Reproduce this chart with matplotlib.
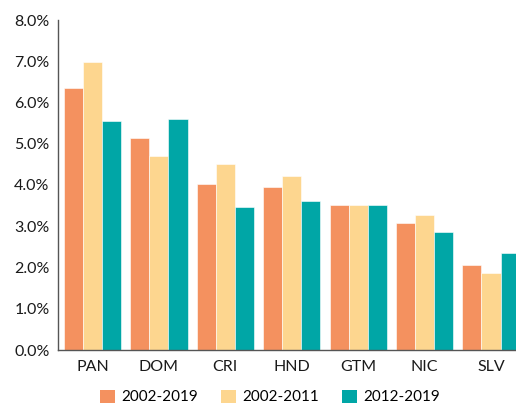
import matplotlib
matplotlib.use("Agg")
import matplotlib.pyplot as plt
import numpy as np
from matplotlib.patches import Patch

plt.rcParams['font.family'] = ['Lato', 'DejaVu Sans']

countries = ["PAN", "DOM", "CRI", "HND", "GTM", "NIC", "SLV"]
series_names = ["2002-2019", "2002-2011", "2012-2019"]
growth_2002_2019 = [6.35, 5.13, 4.03, 3.95, 3.52, 3.09, 2.06]
growth_2002_2011 = [6.98, 4.71, 4.52, 4.23, 3.52, 3.28, 1.87]
growth_2012_2019 = [5.56, 5.61, 3.47, 3.62, 3.52, 2.86, 2.34]
colors = ["#F4915F", "#FDD68F", "#00A6A6"]
yticks = [0, 1, 2, 3, 4, 5, 6, 7, 8]

fig = plt.figure(figsize=(5.16, 4.04), dpi=100)
ax = fig.add_axes([58 / 516, 54 / 404, 458 / 516, 330 / 404])

x = np.arange(len(countries))
w = 0.287
for i, (vals, c) in enumerate(zip([growth_2002_2019, growth_2002_2011, growth_2012_2019], colors)):
    ax.bar(x + (i - 1) * w, vals, width=w, color=c, edgecolor="white", linewidth=0.4)

ax.set_xlim(-0.52, 6.376)
ax.set_ylim(0, 8)
ax.set_yticks(yticks)
ax.set_yticklabels([f"{v:.1f}%" for v in yticks], fontsize=11.5, color="#1a1a1a")
ax.set_xticks(x)
ax.set_xticklabels(countries, fontsize=11.5, color="#1a1a1a")
ax.tick_params(length=0)
ax.tick_params(axis="y", pad=6)
ax.tick_params(axis="x", pad=7)
for s in ["top", "right"]:
    ax.spines[s].set_visible(False)
for s in ["left", "bottom"]:
    ax.spines[s].set_color("#555555")
    ax.spines[s].set_linewidth(1.0)

handles = [Patch(facecolor=c, edgecolor="none") for c in colors]
fig.legend(handles, series_names, loc="center", bbox_to_anchor=(270 / 516, 7 / 404),
           ncol=3, frameon=False, fontsize=11, handlelength=0.95, handleheight=0.95,
           columnspacing=1.55, handletextpad=0.4, borderpad=0)

fig.savefig("out.png", dpi=100)
